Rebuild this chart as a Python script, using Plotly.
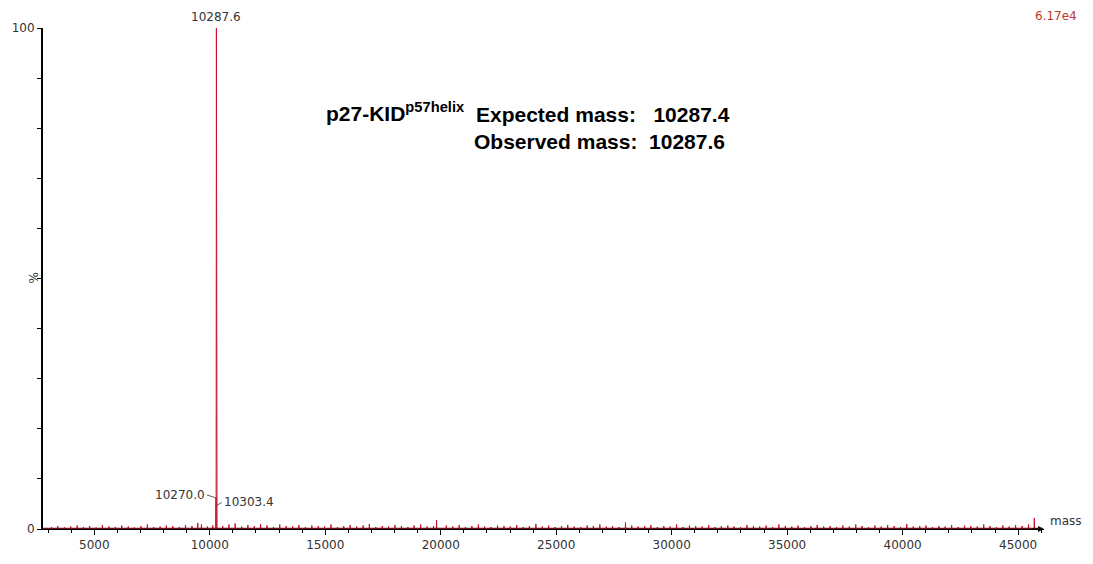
import plotly.graph_objects as go

# Deconvoluted mass spectrum (MaxEnt-style), intensity in % of base peak
base_peak_abs = "6.17e4"

# Centroided peaks: mass (Da) and relative intensity (%)
peak_mass = [
    3150, 3420, 3710, 3980, 4260, 4530, 4800, 5080, 5350, 5640,
    5910, 6190, 6470, 6740, 7020, 7300, 7570, 7850, 8120, 8400,
    8680, 8950, 9230, 9480, 9640, 9900, 10130, 10270.0, 10287.6, 10303.4,
    10560, 10830, 11100, 11380, 11650, 11930, 12200, 12480, 12760, 13030,
    13310, 13590, 13860, 14140, 14420, 14700, 14970, 15250, 15530, 15800,
    16080, 16360, 16640, 16910, 17190, 17470, 17740, 18020, 18300, 18580,
    18850, 19130, 19410, 19690, 19820, 20240, 20520, 20800, 21070, 21350,
    21630, 21900, 22180, 22460, 22740, 23010, 23290, 23570, 23840, 24120,
    24400, 24670, 24950, 25230, 25500, 25780, 26060, 26340, 26610, 26890,
    27170, 27440, 27720, 28000, 28270, 28550, 28830, 29100, 29380, 29660,
    29930, 30210, 30490, 30770, 31040, 31320, 31600, 31870, 32150, 32430,
    32700, 32980, 33260, 33540, 33810, 34090, 34370, 34640, 34920, 35200,
    35470, 35750, 36030, 36300, 36580, 36860, 37140, 37410, 37690, 37970,
    38240, 38520, 38800, 39070, 39350, 39630, 39910, 40180, 40460, 40740,
    41010, 41290, 41570, 41840, 42120, 42400, 42680, 42950, 43230, 43510,
    43780, 44060, 44340, 44610, 44890, 45170, 45450, 45700,
]
peak_intensity = [
    0.4, 0.6, 0.3, 0.5, 0.7, 0.4, 0.6, 0.3, 0.8, 0.5,
    0.4, 0.7, 0.5, 0.3, 0.6, 0.9, 0.4, 0.5, 0.7, 0.6,
    0.4, 0.8, 0.6, 1.2, 0.9, 0.5, 0.7, 6.2, 100.0, 4.7,
    0.6, 0.9, 1.1, 0.5, 0.8, 0.6, 1.0, 0.7, 0.4, 0.9,
    0.6, 0.5, 0.8, 0.4, 0.7, 0.6, 0.5, 0.9, 0.4, 0.6,
    0.8, 0.5, 0.7, 1.0, 0.4, 0.6, 0.5, 0.8, 0.6, 0.4,
    0.7, 0.9, 0.5, 0.6, 1.8, 0.7, 0.5, 0.8, 0.4, 0.6,
    0.9, 0.5, 0.4, 0.7, 0.6, 0.5, 0.8, 0.4, 0.6, 1.0,
    0.5, 0.7, 0.4, 0.6, 0.8, 0.5, 0.4, 0.7, 0.6, 0.9,
    0.5, 0.6, 0.4, 1.3, 0.7, 0.5, 0.6, 0.8, 0.4, 0.6,
    0.5, 0.9, 0.4, 0.7, 0.6, 0.5, 0.8, 0.4, 0.6, 0.7,
    0.5, 0.4, 0.8, 0.6, 0.5, 0.7, 0.4, 0.9, 0.6, 0.5,
    0.7, 0.4, 0.6, 0.8, 0.5, 0.6, 0.4, 0.7, 0.5, 0.9,
    0.6, 0.4, 0.7, 0.5, 0.8, 0.6, 0.4, 1.0, 0.5, 0.6,
    0.7, 0.4, 0.6, 0.5, 0.8, 0.4, 0.7, 0.6, 0.5, 0.9,
    0.6, 0.4, 0.7, 0.5, 0.8, 0.6, 0.9, 2.2,
]

# Centroids carrying a mass label: base peak and its two shoulders
labelled_peaks = [10287.6, 10270.0, 10303.4]

x_range = [2780, 46120]
x_major = [5000, 10000, 15000, 20000, 25000, 30000, 35000, 40000, 45000]
y_ticks = [0, 10, 20, 30, 40, 50, 60, 70, 80, 90, 100]

label_font = "DejaVu Sans, Verdana, sans-serif"
title_font = "Liberation Sans, Arial, sans-serif"
spec_red = "#c8102e"
text_grey = "#333333"

intensity_of = dict(zip(peak_mass, peak_intensity))

# Build a stick spectrum (each centroid drawn as a vertical line from 0)
stick_x, stick_y = [x_range[0]], [0]
for m, h in zip(peak_mass, peak_intensity):
    stick_x += [m - 12, m, m + 12]
    stick_y += [0, h, 0]
stick_x.append(x_range[1] - 60)
stick_y.append(0)

fig = go.Figure()
fig.add_trace(go.Scatter(
    x=stick_x, y=stick_y, mode="lines",
    line=dict(color=spec_red, width=1),
    hoverinfo="skip", showlegend=False,
))
# thick baseline trace along zero
fig.add_trace(go.Scatter(
    x=[x_range[0], x_range[1] - 60], y=[0, 0], mode="lines",
    line=dict(color="#7a0a14", width=2.5),
    hoverinfo="skip", showlegend=False,
))

fig.update_layout(
    width=1093, height=564,
    margin=dict(l=42, r=49, t=28, b=24),
    paper_bgcolor="white", plot_bgcolor="white",
    font=dict(family=label_font, size=12, color=text_grey),
    showlegend=False,
)
fig.update_xaxes(
    range=x_range, showgrid=False, zeroline=False,
    showline=True, linecolor="black", linewidth=1,
    tickmode="array", tickvals=x_major, ticktext=[str(v) for v in x_major],
    ticks="outside", ticklen=5, tickcolor="black",
    minor=dict(dtick=1000, tick0=0, ticks="outside", ticklen=3, tickcolor="black", showgrid=False),
    tickfont=dict(family=label_font, size=12, color=text_grey),
)
fig.update_yaxes(
    range=[0, 100], showgrid=False, zeroline=False,
    showline=True, linecolor="black", linewidth=2,
    tickmode="array", tickvals=y_ticks,
    ticktext=["0" if v == 0 else ("100" if v == 100 else "") for v in y_ticks],
    ticks="outside", ticklen=4, tickcolor="black",
    tickfont=dict(family=label_font, size=12, color=text_grey),
)

# Peak labels
fig.add_annotation(x=labelled_peaks[0], y=intensity_of[labelled_peaks[0]],
                   text=f"{labelled_peaks[0]:.1f}", showarrow=False,
                   yanchor="bottom", yshift=2, font=dict(size=12, color=text_grey))
fig.add_annotation(x=labelled_peaks[1], y=intensity_of[labelled_peaks[1]],
                   text=f"{labelled_peaks[1]:.1f}", showarrow=True,
                   arrowhead=0, arrowwidth=0.8, arrowcolor=text_grey,
                   ax=-9, ay=-3, xanchor="right", font=dict(size=12, color=text_grey))
fig.add_annotation(x=labelled_peaks[2], y=intensity_of[labelled_peaks[2]],
                   text=f"{labelled_peaks[2]:.1f}", showarrow=True,
                   arrowhead=0, arrowwidth=0.8, arrowcolor=text_grey,
                   ax=5, ay=-3, xanchor="left", font=dict(size=12, color=text_grey))

# Absolute intensity of the base peak
fig.add_annotation(xref="paper", yref="paper", x=1.035, y=1.0, text=base_peak_abs,
                   showarrow=False, xanchor="right", yanchor="bottom", yshift=3,
                   font=dict(size=12, color="#c0392b"))

# Axis titles
fig.add_annotation(xref="paper", yref="paper", x=1.0, y=0, text="mass",
                   showarrow=False, xanchor="left", xshift=4, yshift=-1,
                   font=dict(size=12, color=text_grey))
fig.add_annotation(xref="paper", yref="paper", x=0, y=0.5, text="%",
                   showarrow=False, textangle=-90, xshift=-19,
                   font=dict(size=12, color=text_grey))

# Arrow head at the end of the mass axis
fig.add_annotation(x=x_range[1], y=0, ax=-14, ay=0, text="", showarrow=True,
                   arrowhead=2, arrowsize=1, arrowwidth=1.2, arrowcolor="black")

# Sample identity and mass confirmation
fig.add_annotation(xref="paper", yref="paper", x=0.2804, y=0.8535, yshift=4,
                   text="<b>p27-KID<sup>p57helix</sup></b>", showarrow=False,
                   xanchor="left", font=dict(family=title_font, size=21, color="black"))
fig.add_annotation(xref="paper", yref="paper", x=0.4301, y=0.8535,
                   text="<b>Expected mass:   10287.4</b>", showarrow=False,
                   xanchor="left", font=dict(family=title_font, size=21, color="black"))
fig.add_annotation(xref="paper", yref="paper", x=0.4281, y=0.8008,
                   text="<b>Observed mass:  10287.6</b>", showarrow=False,
                   xanchor="left", font=dict(family=title_font, size=21, color="black"))

fig.write_html("out.html")
